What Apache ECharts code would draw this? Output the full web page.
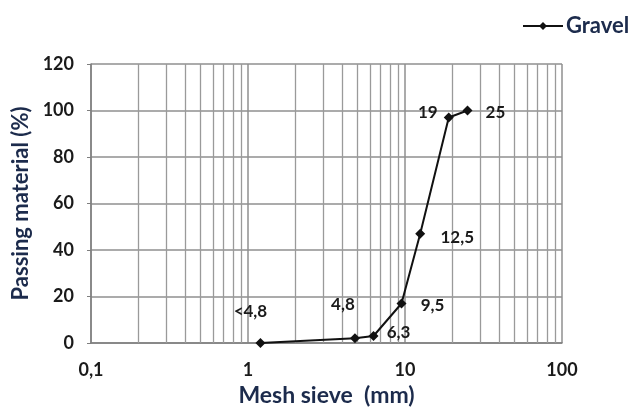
<!DOCTYPE html>
<html>
<head>
<meta charset="utf-8">
<script src="https://cdn.jsdelivr.net/npm/echarts@6/dist/echarts.min.js"></script>
<style>
  html, body { margin: 0; padding: 0; background: #ffffff; }
  #chart { width: 639px; height: 412px; }
</style>
</head>
<body>
<div id="chart"></div>
<script>
// Sieve openings (mm) and cumulative passing material (%)
const sieveSizes = [1.2, 4.8, 6.3, 9.5, 12.5, 19, 25];
const passing = [0, 2, 3, 17, 47, 97, 100];
const sieveLabels = ['<4,8', '4,8', '6,3', '9,5', '12,5', '19', '25'];

// Intermediate log gridlines (2..9 within each decade)
const minorGrid = [0.2, 0.3, 0.4, 0.5, 0.6, 0.7, 0.8, 0.9,
                   2, 3, 4, 5, 6, 7, 8, 9,
                   20, 30, 40, 50, 60, 70, 80, 90];
const yTicks = { min: 0, max: 120, interval: 20 };

// Label offsets from each marker centre [dx, dy]
const labelOffsets = [[-10, -31], [-12, -34], [25, -4], [31, 2], [37, 4], [-21, -5], [28, 2]];

const navy = '#1c2b4c';
const fontFam = 'Lato, "Open Sans", sans-serif';

const chart = echarts.init(document.getElementById('chart'), null, { renderer: 'canvas' });

const seriesData = sieveSizes.map((x, i) => ({
  value: [x, passing[i]],
  label: {
    show: true,
    formatter: sieveLabels[i],
    position: 'inside',
    align: 'center',
    verticalAlign: 'middle',
    offset: labelOffsets[i],
    color: '#1a1a1a',
    fontSize: 17,
    fontWeight: 'bold',
    fontFamily: fontFam
  }
}));

chart.setOption({
  animation: false,
  backgroundColor: '#ffffff',
  grid: { left: 91, right: 77, top: 64, bottom: 69, containLabel: false },
  legend: {
    data: ['Gravel'],
    left: 517,
    top: 10,
    itemWidth: 40,
    itemHeight: 10,
    itemGap: 4,
    textStyle: { color: navy, fontSize: 22, fontFamily: fontFam, fontWeight: 'bold', padding: [0, 0, 0, -2] }
  },
  xAxis: {
    type: 'log',
    logBase: 10,
    min: 0.1,
    max: 100,
    name: 'Mesh sieve  (mm)',
    nameLocation: 'middle',
    nameGap: 39,
    nameTextStyle: { color: navy, fontSize: 23, fontWeight: 'bold', fontFamily: fontFam },
    axisLine: { show: true, onZero: false, lineStyle: { color: '#7f7f7f', width: 1.5 } },
    axisTick: { show: false },
    axisLabel: {
      color: '#1a1a1a', fontSize: 18, fontWeight: 'bold', fontFamily: fontFam, margin: 18,
      formatter: v => String(+v.toPrecision(6)).replace('.', ',')
    },
    splitLine: { show: true, lineStyle: { color: '#8f8f8f', width: 1.5 } }
  },
  yAxis: {
    type: 'value',
    min: yTicks.min,
    max: yTicks.max,
    interval: yTicks.interval,
    name: 'Passing material (%)',
    nameLocation: 'middle',
    nameGap: 57,
    nameTextStyle: { color: navy, fontSize: 22, fontWeight: 'bold', fontFamily: fontFam },
    axisLine: { show: true, lineStyle: { color: '#7f7f7f', width: 1.5 } },
    axisTick: { show: true, length: 4, lineStyle: { color: '#7f7f7f' } },
    axisLabel: { color: '#1a1a1a', fontSize: 18, fontWeight: 'bold', fontFamily: fontFam, margin: 17 },
    splitLine: { show: true, lineStyle: { color: '#8f8f8f', width: 1.5 } }
  },
  series: [
    {
      name: 'Gravel',
      type: 'line',
      data: seriesData,
      symbol: 'diamond',
      symbolSize: 10,
      color: '#111111',
      lineStyle: { color: '#111111', width: 2 },
      itemStyle: { color: '#111111' },
      z: 5,
      markLine: {
        silent: true,
        symbol: ['none', 'none'],
        label: { show: false },
        lineStyle: { color: '#9a9a9a', width: 1.3, type: 'solid' },
        emphasis: { disabled: true },
        data: minorGrid.map(v => ({ xAxis: v })),
        z: 1
      }
    }
  ]
});
</script>
</body>
</html>
